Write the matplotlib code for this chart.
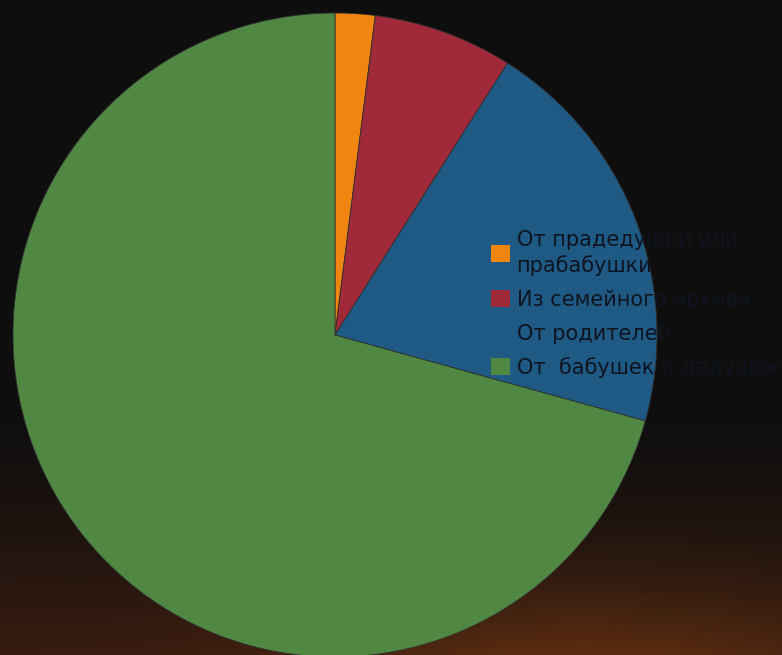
import numpy as np
import matplotlib
matplotlib.use("Agg")
import matplotlib.pyplot as plt
from matplotlib.patches import Patch

labels = ["От прадедушки или\nпрабабушки", "Из семейного архива", "От родителей", "От  бабушек и дедушек"]
values = [2, 7, 20.3, 70.7]
colors = ["#F0850F", "#A02A3A", "#1E5A84", "#508843"]

plt.rcParams['font.family'] = ['DejaVu Sans']

fig = plt.figure(figsize=(7.82, 6.55), dpi=100)

# background gradient
bg = fig.add_axes([0, 0, 1, 1])
bg.set_axis_off()
h, w = 200, 240
yy = np.linspace(0, 1, h)[:, None]   # 0 top -> 1 bottom
xx = np.linspace(0, 1, w)[None, :]
t = np.clip((yy - 0.6) / 0.4, 0, 1) ** 1.5
top = np.array([0x0e, 0x0e, 0x0e]) / 255
bot = np.array([0x38, 0x1c, 0x10]) / 255
img = top[None, None, :] * (1 - t[..., None]) + bot[None, None, :] * t[..., None]
glow = np.exp(-(((xx - 0.75) / 0.35) ** 2 + ((yy - 1.05) / 0.15) ** 2))
img = img + glow[..., None] * np.array([0.15, 0.07, 0.0])[None, None, :]
img = np.clip(img, 0, 1)
bg.imshow(img, aspect='auto', extent=[0, 1, 0, 1])
bg.set_xlim(0, 1); bg.set_ylim(0, 1)

cx, cy, r = 335, 335, 322
W, H = 782, 655
ax = fig.add_axes([(cx - r) / W, (H - cy - r) / H, 2 * r / W, 2 * r / H])
ax.pie(values, colors=colors, startangle=90, counterclock=False, radius=1,
       wedgeprops=dict(edgecolor="#303030", linewidth=0.6))
ax.set_xlim(-1, 1); ax.set_ylim(-1, 1)
ax.set_aspect('auto')
ax.set_axis_off()

handles = [Patch(facecolor=c, edgecolor='none') for c in colors]
leg = fig.legend(handles, labels, loc='upper left', bbox_to_anchor=(491 / W, 1 - 230 / H),
                 frameon=False, fontsize=15, handlelength=0.9, handleheight=0.9,
                 handletextpad=0.33, labelspacing=0.64, borderaxespad=0, borderpad=0)
for txt in leg.get_texts():
    txt.set_color("#0e1420")
    txt.set_linespacing(1.3)

fig.savefig("out.png", dpi=100)
